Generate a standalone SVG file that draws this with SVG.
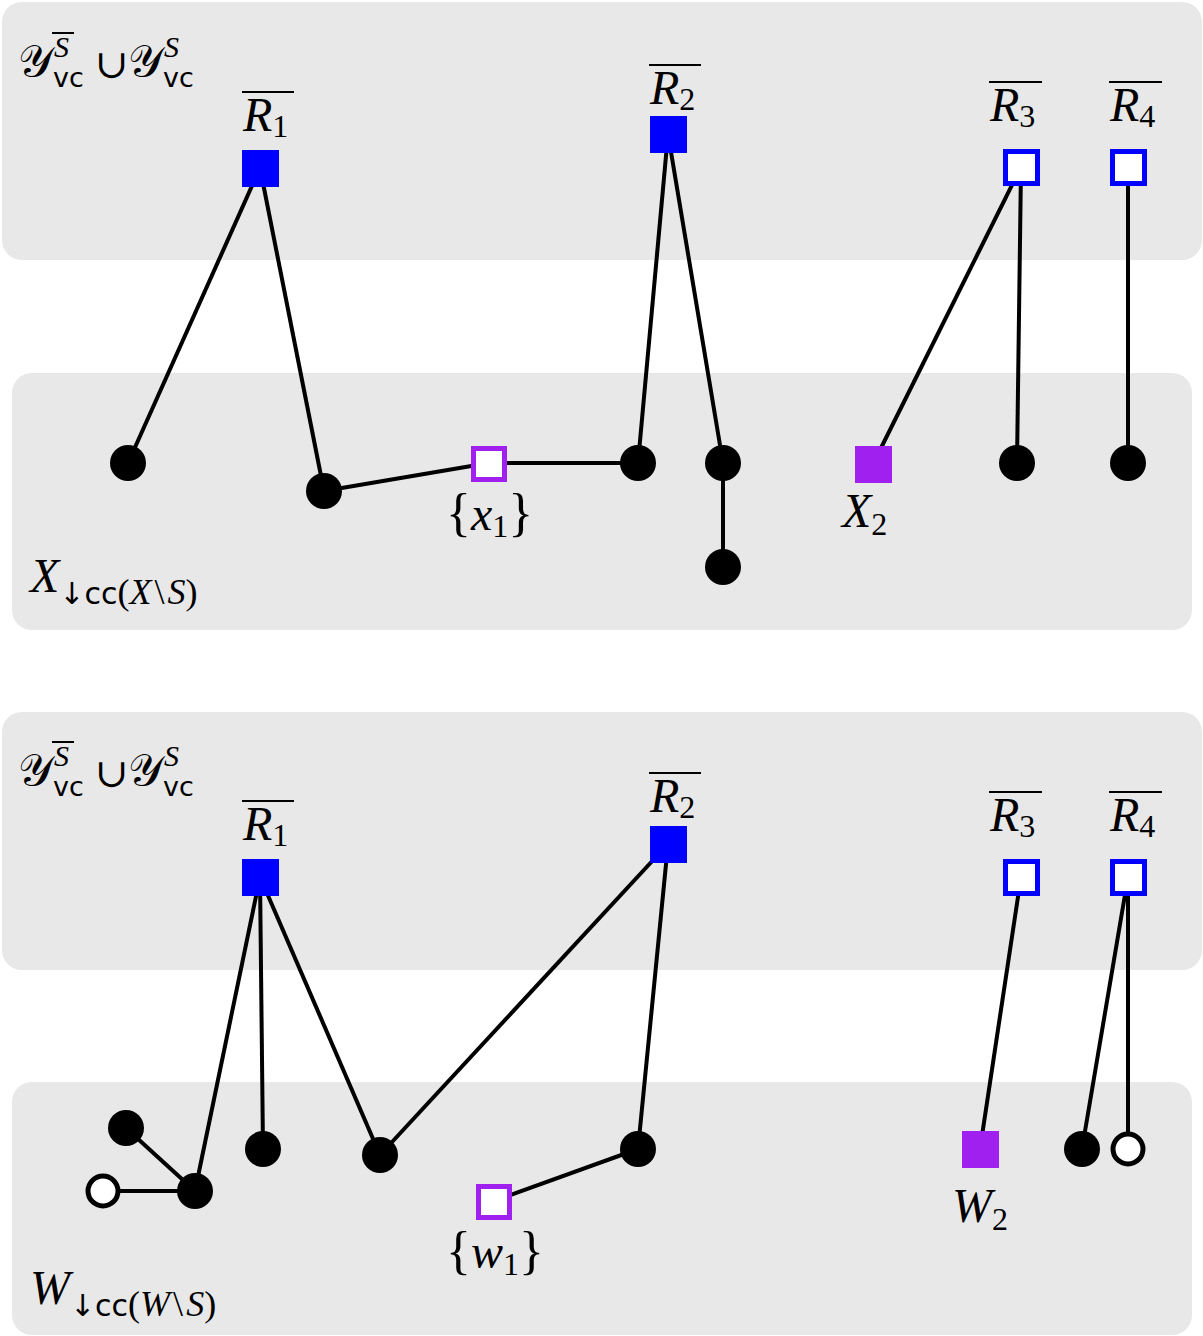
<svg xmlns="http://www.w3.org/2000/svg" width="1203" height="1336" viewBox="0 0 1203 1336">
<style>
.panel{fill:#e8e8e8}
.e{stroke:#000;stroke-width:4;fill:none}
.dot{fill:#000}
.odot{fill:#fff;stroke:#000;stroke-width:5}
.bsq{fill:#0000ff}
.obsq{fill:#fff;stroke:#0000ff;stroke-width:5}
.psq{fill:#a020f0}
.opsq{fill:#fff;stroke:#a020f0;stroke-width:5}
.m{font-family:"Liberation Serif","DejaVu Serif",serif;font-style:italic;font-size:48px;fill:#000}
.sup{font-family:"Liberation Serif","DejaVu Serif",serif;font-style:italic;font-size:30px;fill:#000}
.r{font-family:"Liberation Serif","DejaVu Serif",serif;font-style:normal}
.s{font-family:"DejaVu Sans","Liberation Sans",sans-serif;font-style:normal}
.cal{font-family:"DejaVu Serif","Liberation Serif",serif;font-style:normal;font-size:44px;fill:#000}
.ol{stroke:#000;stroke-width:2}
</style>
<g id="panels">
<rect class="panel" x="2" y="2" width="1200" height="258" rx="20"/>
<rect class="panel" x="12" y="373" width="1180" height="257" rx="20"/>
<rect class="panel" x="2" y="712" width="1200" height="258" rx="20"/>
<rect class="panel" x="12" y="1082" width="1180" height="253" rx="20"/>
</g>
<g id="connectors">
<line class="e" x1="260" y1="168" x2="128" y2="463"/>
<line class="e" x1="260" y1="168" x2="324" y2="491"/>
<line class="e" x1="324" y1="491" x2="489" y2="463"/>
<line class="e" x1="489" y1="463" x2="638" y2="463"/>
<line class="e" x1="668" y1="134" x2="638" y2="463"/>
<line class="e" x1="668" y1="134" x2="723" y2="463"/>
<line class="e" x1="723" y1="463" x2="723" y2="567"/>
<line class="e" x1="1021" y1="167" x2="873" y2="464"/>
<line class="e" x1="1021" y1="167" x2="1017" y2="463"/>
<line class="e" x1="1128" y1="167" x2="1128" y2="463"/>
<line class="e" x1="126" y1="1128" x2="195" y2="1191"/>
<line class="e" x1="103" y1="1191" x2="195" y2="1191"/>
<line class="e" x1="260" y1="877" x2="195" y2="1191"/>
<line class="e" x1="260" y1="877" x2="263" y2="1149"/>
<line class="e" x1="260" y1="877" x2="380" y2="1155"/>
<line class="e" x1="380" y1="1155" x2="668" y2="844"/>
<line class="e" x1="668" y1="844" x2="638" y2="1149"/>
<line class="e" x1="638" y1="1149" x2="494" y2="1201"/>
<line class="e" x1="1021" y1="877" x2="980" y2="1149"/>
<line class="e" x1="1128" y1="877" x2="1082" y2="1149"/>
<line class="e" x1="1128" y1="877" x2="1128" y2="1149"/>
</g>
<g id="label-top-Y">
<text class="cal" x="18" y="76">𝒴</text>
<text class="sup" x="54" y="57">S</text>
<line class="ol" x1="52" y1="33" x2="74" y2="33"/>
<text class="s" x="53" y="87" font-size="27">vc</text>
<text class="r" x="95" y="78" font-size="40">∪</text>
<text class="cal" x="128" y="76">𝒴</text>
<text class="sup" x="164" y="57">S</text>
<text class="s" x="163" y="87" font-size="27">vc</text>
</g>
<g id="R1-top">
<rect class="bsq" x="242" y="150" width="37" height="37"/>
<line class="ol" x1="242" y1="92" x2="294" y2="92"/>
<text class="m" x="243" y="131">R<tspan class="r" font-size="32" dy="6">1</tspan></text>
</g>
<g id="R2-top">
<rect class="bsq" x="650" y="116" width="37" height="37"/>
<line class="ol" x1="649" y1="65" x2="701" y2="65"/>
<text class="m" x="650" y="104">R<tspan class="r" font-size="32" dy="6">2</tspan></text>
</g>
<g id="R3-top">
<rect class="obsq" x="1005.5" y="151.5" width="32" height="32"/>
<line class="ol" x1="989" y1="82" x2="1042" y2="82"/>
<text class="m" x="990" y="121">R<tspan class="r" font-size="32" dy="6">3</tspan></text>
</g>
<g id="R4-top">
<rect class="obsq" x="1112.5" y="151.5" width="32" height="32"/>
<line class="ol" x1="1109" y1="82" x2="1162" y2="82"/>
<text class="m" x="1110" y="121">R<tspan class="r" font-size="32" dy="6">4</tspan></text>
</g>
<g id="top-nodes">
<circle class="dot" cx="128" cy="463" r="18"/>
<circle class="dot" cx="324" cy="491" r="18"/>
<circle class="dot" cx="638" cy="463" r="18"/>
<circle class="dot" cx="723" cy="463" r="18"/>
<circle class="dot" cx="723" cy="567" r="18"/>
<circle class="dot" cx="1017" cy="463" r="18"/>
<circle class="dot" cx="1128" cy="463" r="18"/>
</g>
<g id="x1">
<rect class="opsq" x="473.5" y="448.5" width="31" height="31"/>
<text class="m" x="446" y="530"><tspan class="r" font-size="52">{</tspan>x<tspan class="r" font-size="32" dy="7">1</tspan><tspan class="r" font-size="52" dy="-7">}</tspan></text>
</g>
<g id="X2">
<rect class="psq" x="855" y="446" width="37" height="37"/>
<text class="m" x="842" y="527">X<tspan class="r" font-size="32" dy="8">2</tspan></text>
</g>
<g id="label-X">
<text class="m" x="30" y="592">X<tspan class="s" font-size="30" dy="12">↓cc</tspan><tspan class="r" font-size="36">(</tspan><tspan font-size="36">X</tspan><tspan class="r" font-size="36" dx="3">\</tspan><tspan font-size="36" dx="3">S</tspan><tspan class="r" font-size="36">)</tspan></text>
</g>
<g id="label-bottom-Y">
<text class="cal" x="18" y="785">𝒴</text>
<text class="sup" x="54" y="766">S</text>
<line class="ol" x1="52" y1="742" x2="74" y2="742"/>
<text class="s" x="53" y="796" font-size="27">vc</text>
<text class="r" x="95" y="787" font-size="40">∪</text>
<text class="cal" x="128" y="785">𝒴</text>
<text class="sup" x="164" y="766">S</text>
<text class="s" x="163" y="796" font-size="27">vc</text>
</g>
<g id="R1-bottom">
<rect class="bsq" x="242" y="859" width="37" height="37"/>
<line class="ol" x1="242" y1="801" x2="294" y2="801"/>
<text class="m" x="243" y="840">R<tspan class="r" font-size="32" dy="6">1</tspan></text>
</g>
<g id="R2-bottom">
<rect class="bsq" x="650" y="826" width="37" height="37"/>
<line class="ol" x1="649" y1="773" x2="701" y2="773"/>
<text class="m" x="650" y="812">R<tspan class="r" font-size="32" dy="6">2</tspan></text>
</g>
<g id="R3-bottom">
<rect class="obsq" x="1005.5" y="861.5" width="32" height="32"/>
<line class="ol" x1="989" y1="792" x2="1042" y2="792"/>
<text class="m" x="990" y="831">R<tspan class="r" font-size="32" dy="6">3</tspan></text>
</g>
<g id="R4-bottom">
<rect class="obsq" x="1112.5" y="861.5" width="32" height="32"/>
<line class="ol" x1="1109" y1="792" x2="1162" y2="792"/>
<text class="m" x="1110" y="831">R<tspan class="r" font-size="32" dy="6">4</tspan></text>
</g>
<g id="bottom-nodes">
<circle class="dot" cx="126" cy="1128" r="18"/>
<circle class="odot" cx="103" cy="1191" r="15"/>
<circle class="dot" cx="195" cy="1191" r="18"/>
<circle class="dot" cx="263" cy="1149" r="18"/>
<circle class="dot" cx="380" cy="1155" r="18"/>
<circle class="dot" cx="638" cy="1149" r="18"/>
<circle class="dot" cx="1082" cy="1149" r="18"/>
<circle class="odot" cx="1128" cy="1149" r="15"/>
</g>
<g id="w1">
<rect class="opsq" x="478.5" y="1186.5" width="31" height="31"/>
<text class="m" x="446" y="1268"><tspan class="r" font-size="52">{</tspan>w<tspan class="r" font-size="32" dy="7">1</tspan><tspan class="r" font-size="52" dy="-7">}</tspan></text>
</g>
<g id="W2">
<rect class="psq" x="962" y="1131" width="37" height="37"/>
<text class="m" x="952" y="1222">W<tspan class="r" font-size="32" dy="8">2</tspan></text>
</g>
<g id="label-W">
<text class="m" x="30" y="1304">W<tspan class="s" font-size="30" dy="12">↓cc</tspan><tspan class="r" font-size="36">(</tspan><tspan font-size="36">W</tspan><tspan class="r" font-size="36" dx="3">\</tspan><tspan font-size="36" dx="3">S</tspan><tspan class="r" font-size="36">)</tspan></text>
</g>
</svg>
